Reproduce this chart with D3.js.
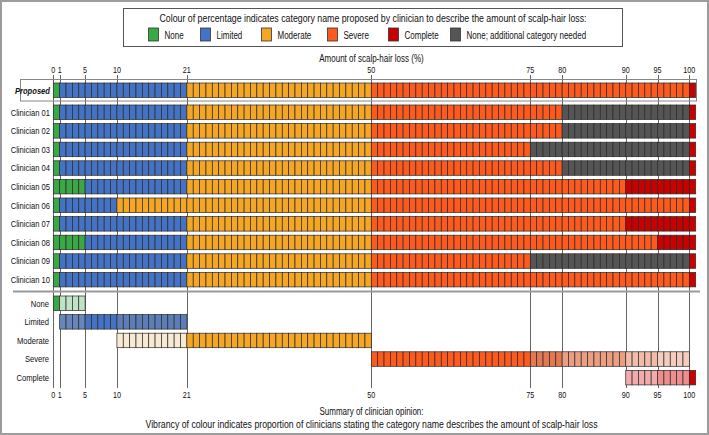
<!DOCTYPE html>
<html lang="en">
<head>
<meta charset="utf-8" />
<title>Amount of scalp-hair loss</title>
<script src="https://cdn.jsdelivr.net/npm/d3@7"></script>
<style>
	body { margin:0; background:#fff; }
	text { font-family:'Liberation Sans', Arial, sans-serif; fill:#111; }
</style>
</head>
<body>
<script>
// categories and their colours
var categories = ['None','Limited','Moderate','Severe','Complete','Extra'];
var categoryNames = ['None','Limited','Moderate','Severe','Complete','None; additional category needed'];
var categoryColours = ['#3aa845','#4472c4','#f5a623','#fe5a1d','#c80000','#555555'];
var tickValues = [0,1,5,10,21,50,75,80,90,95,100];
var clinicianLabels = ['Clinician 01','Clinician 02','Clinician 03','Clinician 04','Clinician 05',
	'Clinician 06','Clinician 07','Clinician 08','Clinician 09','Clinician 10'];
var summaryLabels = ['None','Limited','Moderate','Severe','Complete'];

// each row: [category, first %, last %]
var proposed = [['None',0,0],['Limited',1,20],['Moderate',21,49],['Severe',50,99],['Complete',100,100]];
var clinicianSegments = [
	[['None',0,0],['Limited',1,20],['Moderate',21,49],['Severe',50,79],['Extra',80,99],['Complete',100,100]],
	[['None',0,0],['Limited',1,20],['Moderate',21,49],['Severe',50,79],['Extra',80,99],['Complete',100,100]],
	[['None',0,0],['Limited',1,20],['Moderate',21,49],['Severe',50,74],['Extra',75,99],['Complete',100,100]],
	[['None',0,0],['Limited',1,20],['Moderate',21,49],['Severe',50,79],['Extra',80,99],['Complete',100,100]],
	[['None',0,4],['Limited',5,20],['Moderate',21,49],['Severe',50,89],['Complete',90,100]],
	[['None',0,0],['Limited',1,9],['Moderate',10,49],['Severe',50,99],['Complete',100,100]],
	[['None',0,0],['Limited',1,20],['Moderate',21,49],['Severe',50,89],['Complete',90,100]],
	[['None',0,4],['Limited',5,20],['Moderate',21,49],['Severe',50,94],['Complete',95,100]],
	[['None',0,0],['Limited',1,20],['Moderate',21,49],['Severe',50,74],['Extra',75,99],['Complete',100,100]],
	[['None',0,0],['Limited',1,20],['Moderate',21,49],['Severe',50,99],['Complete',100,100]]
];

var colour = d3.scaleOrdinal().domain(categories).range(categoryColours);
var x = d3.scaleLinear().domain([0,101]).range([53.3,695.7]);
var yClin = d3.scaleBand().domain(clinicianLabels).range([102.95,288.95]).paddingInner(0.22).paddingOuter(0.11);
var ySum = d3.scaleBand().domain(summaryLabels).range([293.95,386.95]).paddingInner(0.22).paddingOuter(0.11);

var svg = d3.select('body').append('svg').attr('width',709).attr('height',435);

// narrow font look
function narrow(sel, f) {
	sel.each(function() {
		var w = this.getComputedTextLength();
		d3.select(this).attr('textLength', w*(f||0.8)).attr('lengthAdjust','spacingAndGlyphs');
	});
}

// fade a colour by the share of clinicians
function faded(base, p) {
	if (p >= 1) return base;
	var c = d3.hsl(base);
	c.s = c.s*0.75;
	c.l = c.l + (0.95 - c.l)*Math.pow(1-p, 1.3);
	return c.formatHex();
}

function cellsOf(segs) {
	var out = [];
	segs.forEach(function(s) {
		d3.range(s[1], s[2]+1).forEach(function(v) { out.push({cat:s[0], v:v}); });
	});
	return out;
}

svg.append('rect').attr('x',1).attr('y',1).attr('width',707).attr('height',433)
	.attr('fill','none').attr('stroke','#9c9c9c').attr('stroke-width',2);

// legend
svg.append('rect').attr('x',123.5).attr('y',8.5).attr('width',499).attr('height',38)
	.attr('fill','#fff').attr('stroke','#555').attr('stroke-width',1);
svg.append('text').attr('x',373).attr('y',21.5).attr('text-anchor','middle').style('font-size','10px')
	.attr('textLength',427).attr('lengthAdjust','spacingAndGlyphs')
	.text('Colour of percentage indicates category name proposed by clinician to describe the amount of scalp-hair loss:');
var legendSwatchX = [148.5,200.5,261.5,327.5,388.5,450.5];
var legend = svg.append('g').selectAll('g').data(categories).enter().append('g')
	.attr('transform', function(d,i) { return 'translate('+legendSwatchX[i]+',28)'; });
legend.append('rect').attr('width',10).attr('height',13)
	.attr('fill', function(d) { return colour(d); }).attr('stroke','#333').attr('stroke-width',0.8);
legend.append('text').attr('x',16).attr('y',10.5).style('font-size','10px')
	.text(function(d,i) { return categoryNames[i]; }).call(narrow, 0.8);

// axis title + top ticks
svg.append('text').attr('x',371.5).attr('y',61.5).attr('text-anchor','middle').style('font-size','10px')
	.text('Amount of scalp-hair loss (%)').call(narrow, 0.8);
svg.append('g').selectAll('text').data(tickValues).enter().append('text')
	.attr('x', function(d) { return x(d); }).attr('y',73)
	.attr('text-anchor','middle').style('font-size','9px')
	.text(function(d) { return d; }).call(narrow, 0.8);
svg.append('g').selectAll('text').data(tickValues).enter().append('text')
	.attr('x', function(d) { return x(d); }).attr('y',397.5)
	.attr('text-anchor','middle').style('font-size','9px')
	.text(function(d) { return d; }).call(narrow, 0.8);

// grid lines
svg.append('g').selectAll('line').data(tickValues).enter().append('line')
	.attr('x1', function(d) { return Math.round(x(d))+0.5; }).attr('x2', function(d) { return Math.round(x(d))+0.5; })
	.attr('y1',75).attr('y2',388).attr('stroke','#555').attr('stroke-width',0.9);

// proposed box
svg.append('rect').attr('x',20.5).attr('y',79.5).attr('width',676).attr('height',21.5)
	.attr('fill','none').attr('stroke','#888').attr('stroke-width',1);

function drawRow(cells, y0, h) {
	svg.append('g').selectAll('rect').data(cells).enter().append('rect')
		.attr('x', function(d) { return x(d.v); }).attr('y', y0)
		.attr('width', x(1)-x(0)).attr('height', h)
		.attr('fill', function(d) { return d.fill || colour(d.cat); })
		.attr('stroke','#2a2a2a').attr('stroke-width',0.7);
}

drawRow(cellsOf(proposed), 83, yClin.bandwidth());
svg.append('text').attr('x',50).attr('y',93.5).attr('text-anchor','end')
	.style('font-size','9.5px').style('font-weight','bold').style('font-style','italic')
	.text('Proposed').call(narrow, 0.8);

clinicianSegments.forEach(function(segs, i) {
	drawRow(cellsOf(segs), yClin(clinicianLabels[i]), yClin.bandwidth());
});
svg.append('g').selectAll('text').data(clinicianLabels).enter().append('text')
	.attr('x',50).attr('y', function(d) { return yClin(d)+yClin.bandwidth()/2+3.4; })
	.attr('text-anchor','end').style('font-size','9.5px')
	.text(function(d) { return d; }).call(narrow, 0.8);

// separator
svg.append('line').attr('x1',13).attr('x2',700).attr('y1',291.5).attr('y2',291.5)
	.attr('stroke','#999').attr('stroke-width',2);

// summary rows from clinician opinions
summaryLabels.forEach(function(cat) {
	var cells = [];
	d3.range(0,101).forEach(function(v) {
		var n = clinicianSegments.filter(function(segs) {
			return segs.some(function(s) { return s[0]===cat && v>=s[1] && v<=s[2]; });
		}).length;
		if (n > 0) cells.push({cat:cat, v:v, fill:faded(colour(cat), n/clinicianSegments.length)});
	});
	drawRow(cells, ySum(cat), ySum.bandwidth());
});
svg.append('g').selectAll('text').data(summaryLabels).enter().append('text')
	.attr('x',49).attr('y', function(d) { return ySum(d)+ySum.bandwidth()/2+3.4; })
	.attr('text-anchor','end').style('font-size','9.5px')
	.text(function(d) { return d; }).call(narrow, 0.8);

// caption
svg.append('text').attr('x',371.5).attr('y',415).attr('text-anchor','middle').style('font-size','10px')
	.text('Summary of clinician opinion:').call(narrow, 0.8);
svg.append('text').attr('x',371.5).attr('y',427.5).attr('text-anchor','middle').style('font-size','10px')
	.attr('textLength',452).attr('lengthAdjust','spacingAndGlyphs')
	.text('Vibrancy of colour indicates proportion of clinicians stating the category name describes the amount of scalp-hair loss');
</script>
</body>
</html>
